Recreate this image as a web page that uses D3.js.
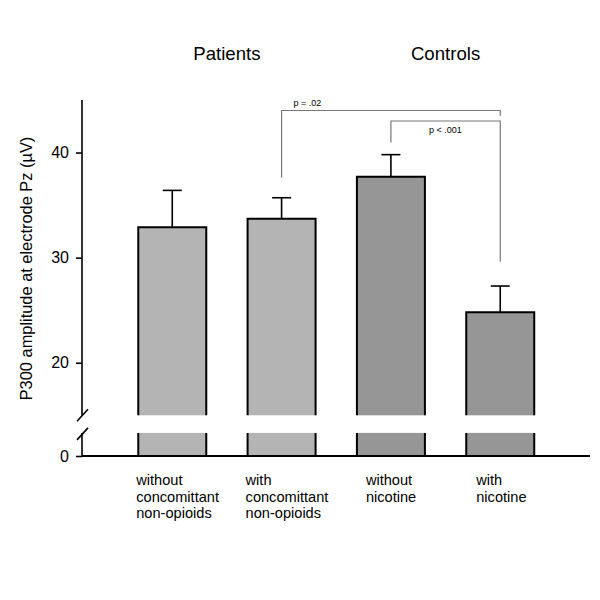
<!DOCTYPE html>
<html>
<head>
<meta charset="utf-8">
<script src="https://cdn.jsdelivr.net/npm/d3@7"></script>
<style>
body{margin:0;background:#fff;}
text{font-family:"Liberation Sans",Arial,sans-serif;}
</style>
</head>
<body>
<svg id="c" width="600" height="600"></svg>
<script>
// ---- data ----
const categories = ["without concomittant non-opioids","with concomittant non-opioids","without nicotine","with nicotine"];
const labelLines = [["without","concomittant","non-opioids"],["with","concomittant","non-opioids"],["without","nicotine"],["with","nicotine"]];
const groups = ["Patients","Patients","Controls","Controls"];
const groupNames = ["Patients","Controls"];
const means = [32.9, 33.7, 37.7, 24.8];
const errUpper = [36.4, 35.7, 39.8, 27.3];
const upperTicks = [20, 30, 40];
const lowerTicks = [0];
const comparisons = [
  {from: 1, to: 3, label: "p = .02"},
  {from: 2, to: 3, label: "p < .001"}
];

// ---- layout ----
const svg = d3.select("#c");
const axisX = 82, axisRight = 590;
const x = d3.scaleBand().domain(categories).range([117.6, 554.9]).paddingInner(0.378).paddingOuter(0.189);
const yUp = d3.scaleLinear().domain([15, 45]).range([415.3, 100]);
const yLow = d3.scaleLinear().domain([0, 2.2]).range([456, 432.9]);
const color = {Patients: "#b4b4b4", Controls: "#969696"};

// bars
const bars = svg.append("g");
categories.forEach((c, i) => {
  const x0 = x(c), w = x.bandwidth();
  const col = color[groups[i]];
  bars.append("rect").attr("x", x0).attr("y", yUp(means[i])).attr("width", w)
    .attr("height", yUp(15) - yUp(means[i])).attr("fill", col);
  bars.append("path").attr("d", `M${x0},${yUp(15)}V${yUp(means[i])}H${x0+w}V${yUp(15)}`)
    .attr("fill", "none").attr("stroke", "#000").attr("stroke-width", 2);
  bars.append("rect").attr("x", x0).attr("y", yLow(2.2)).attr("width", w)
    .attr("height", yLow(0) - yLow(2.2)).attr("fill", col);
  bars.append("path").attr("d", `M${x0},${yLow(0)}V${yLow(2.2)}M${x0+w},${yLow(0)}V${yLow(2.2)}`)
    .attr("fill", "none").attr("stroke", "#000").attr("stroke-width", 2);
  const cx = x0 + w / 2;
  bars.append("line").attr("x1", cx).attr("x2", cx).attr("y1", yUp(means[i])).attr("y2", yUp(errUpper[i]))
    .attr("stroke", "#000").attr("stroke-width", 1.6);
  bars.append("line").attr("x1", cx - 9.5).attr("x2", cx + 9.5).attr("y1", yUp(errUpper[i])).attr("y2", yUp(errUpper[i]))
    .attr("stroke", "#000").attr("stroke-width", 1.6);
});

// y axis upper
const axUp = svg.append("g").attr("transform", `translate(${axisX},0)`)
  .call(d3.axisLeft(yUp).tickValues(upperTicks).tickSize(6).tickPadding(7).tickFormat(d3.format("d")));
axUp.select(".domain").remove();
axUp.append("line").attr("x1", 0).attr("x2", 0).attr("y1", yUp(45)).attr("y2", yUp(15)).attr("stroke", "#000").attr("stroke-width", 1.6);
axUp.append("line").attr("x1", -5).attr("x2", 6).attr("y1", yUp(15) + 6).attr("y2", yUp(15) - 6).attr("stroke", "#000").attr("stroke-width", 1.6);
// y axis lower
const axLow = svg.append("g").attr("transform", `translate(${axisX},0)`)
  .call(d3.axisLeft(yLow).tickValues(lowerTicks).tickSize(6).tickPadding(7).tickFormat(d3.format("d")));
axLow.select(".domain").remove();
axLow.append("line").attr("x1", 0).attr("x2", 0).attr("y1", yLow(2.2)).attr("y2", yLow(0)).attr("stroke", "#000").attr("stroke-width", 1.6);
axLow.append("line").attr("x1", -5).attr("x2", 6).attr("y1", yLow(2.2) + 7).attr("y2", yLow(2.2) - 5).attr("stroke", "#000").attr("stroke-width", 1.6);
svg.selectAll(".tick line").attr("stroke", "#000").attr("stroke-width", 1.6);
svg.selectAll(".tick text").attr("font-size", 16).attr("fill", "#000").style("font-family", "Liberation Sans, Arial, sans-serif");

// x axis baseline
svg.append("line").attr("x1", axisX).attr("x2", axisRight).attr("y1", yLow(0)).attr("y2", yLow(0))
  .attr("stroke", "#000").attr("stroke-width", 2);

// category labels
const labelOffset = [-2, -2, 9, 10];
categories.forEach((c, i) => {
  const t = svg.append("text").attr("x", x(c) + labelOffset[i]).attr("y", 485).attr("font-size", 14.6).attr("fill", "#000");
  labelLines[i].forEach((ln, j) => t.append("tspan").attr("x", x(c) + labelOffset[i]).attr("dy", j === 0 ? 0 : 16.5).text(ln));
});

// group titles
groupNames.forEach(g => {
  const idx = groups.map((d, i) => d === g ? i : -1).filter(i => i >= 0);
  const cx = (x(categories[idx[0]]) + x(categories[idx[idx.length - 1]]) + x.bandwidth()) / 2;
  svg.append("text").attr("x", cx).attr("y", 60).attr("text-anchor", "middle").attr("font-size", 18.6).attr("fill", "#000").text(g);
});

// y label
svg.append("text").attr("transform", `translate(32,268.5) rotate(-90)`).attr("text-anchor", "middle")
  .attr("font-size", 16.4).attr("fill", "#000").text("P300 amplitude at electrode Pz (µV)");

// significance brackets
const br = svg.append("g").attr("stroke", "#777").attr("stroke-width", 1.2).attr("fill", "none");
const cxOf = i => x(categories[i]) + x.bandwidth() / 2;
br.append("path").attr("d", `M${cxOf(comparisons[0].from)},${yUp(37.6)}V${yUp(44.0)}H${cxOf(comparisons[0].to)}V${yUp(43.5)}`);
svg.append("text").attr("x", cxOf(comparisons[0].from) + 12).attr("y", 106).attr("font-size", 9).attr("fill", "#000").text(comparisons[0].label);
br.append("path").attr("d", `M${cxOf(comparisons[1].from)},${yUp(40.95)}V${yUp(43.0)}H${cxOf(comparisons[1].to)}V${yUp(29.6)}`);
svg.append("text").attr("x", cxOf(comparisons[1].from) + 38).attr("y", 133).attr("font-size", 9).attr("fill", "#000").text(comparisons[1].label);
</script>
</body>
</html>
